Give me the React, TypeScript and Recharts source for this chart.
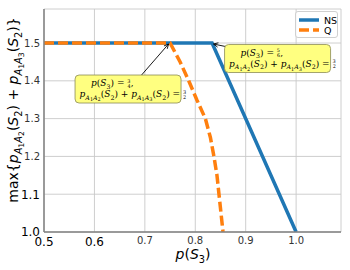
import React from "react";
import {
  CartesianGrid,
  Line,
  LineChart,
  ReferenceDot,
  XAxis,
  YAxis,
} from "recharts";

// values
const nsX = [0.5, 0.8333, 1.0];
const nsY = [1.5, 1.5, 1.0];
const qX = [0.5, 0.75, 0.77, 0.787, 0.803, 0.82, 0.83, 0.837, 0.843, 0.847, 0.851, 0.855];
const qY = [1.5, 1.5, 1.45, 1.4, 1.35, 1.3, 1.25, 1.2, 1.15, 1.1, 1.05, 1.0];
const xTicks = [0.5, 0.6, 0.7, 0.8, 0.9, 1.0];
const yTicks = [1.0, 1.1, 1.2, 1.3, 1.4, 1.5];
const bigX = [0.5, 0.6];
const bigY = [1.0, 1.1];
const seriesNames = ["NS", "Q"];
const noteQ = { x: 0.75, y: 1.5, num: "3", den: "4" };
const noteNS = { x: 0.8333, y: 1.5, num: "5", den: "6" };

const nsData = nsX.map((x, i) => ({ x, v: nsY[i] }));
const qData = qX.map((x, i) => ({ x, v: qY[i] }));

const BLUE = "#1f77b4";
const ORANGE = "#ff7f0e";
const SANS = "DejaVu Sans, sans-serif";
const SERIF = "DejaVu Serif, serif";

// [text, level, italic]; level 0 normal, 1 subscript, 2 sub-subscript, 3 frac top, 4 frac bottom
type Seg = [string, number, boolean];

function spans(segs: Seg[], base: number) {
  let cur = 0;
  return segs.map(([t, lvl, it], i) => {
    const off = [0, 0.28, 0.45, -0.38, 0.22][lvl] * base;
    const dy = off - cur;
    cur = off;
    const fs = [1, 0.7, 0.55, 0.55, 0.55][lvl] * base;
    // denominator sits under the numerator
    const dx = lvl === 4 ? -0.6 * fs : 0;
    return (
      <tspan key={i} dy={dy} dx={dx} fontSize={fs} fontStyle={it ? "italic" : "normal"}>
        {t}
      </tspan>
    );
  });
}

const sumSegs: Seg[] = [
  ["p", 0, true], ["A", 1, true], ["1", 2, false], ["A", 1, true], ["2", 2, false],
  ["(", 0, false], ["S", 0, true], ["2", 1, false], [") + ", 0, false],
  ["p", 0, true], ["A", 1, true], ["1", 2, false], ["A", 1, true], ["3", 2, false],
  ["(", 0, false], ["S", 0, true], ["2", 1, false], [") = ", 0, false],
  ["3", 3, false], ["2", 4, false],
];
const pSegs = (n: string, d: string): Seg[] => [
  ["p", 0, true], ["(", 0, false], ["S", 0, true], ["3", 1, false], [") = ", 0, false],
  [n, 3, false], [d, 4, false], [",", 0, false],
];

const Arrow = ({ x1, y1, x2, y2 }: { x1: number; y1: number; x2: number; y2: number }) => {
  const a = Math.atan2(y2 - y1, x2 - x1);
  const h = 5;
  const p1 = [x2 - h * Math.cos(a - 0.45), y2 - h * Math.sin(a - 0.45)];
  const p2 = [x2 - h * Math.cos(a + 0.45), y2 - h * Math.sin(a + 0.45)];
  return (
    <g stroke="#000" strokeWidth={0.9} fill="none">
      <line x1={x1} y1={y1} x2={x2} y2={y2} />
      <polyline points={`${p1[0]},${p1[1]} ${x2},${y2} ${p2[0]},${p2[1]}`} />
    </g>
  );
};

// box is placed relative to the annotated point
const Note = ({ cx, cy, bx, by, ax, ay, num, den }: any) => {
  const w = 106;
  const h = 28;
  return (
    <g>
      <Arrow x1={cx + ax} y1={cy + ay} x2={cx + (ax > 0 ? 1.5 : -1.5)} y2={cy + 1} />
      <rect x={cx + bx} y={cy + by} width={w} height={h} rx={4} fill="#ffff80" stroke="#8a8a55" strokeWidth={0.8} />
      <text x={cx + bx + 16} y={cy + by + 11} fontFamily={SERIF} fontSize={9} fill="#000">
        {spans(pSegs(num, den), 9)}
      </text>
      <text x={cx + bx + 4.5} y={cy + by + 22} fontFamily={SERIF} fontSize={9} fill="#000">
        {spans(sumSegs, 9)}
      </text>
    </g>
  );
};

const XTick = ({ x, y, payload }: any) => {
  const big = bigX.includes(payload.value);
  return (
    <text x={x} y={y} dy="0.71em" textAnchor="middle" fontFamily={SANS} fontSize={big ? 12 : 10} fill={big ? "#000" : "#333"}>
      {payload.value.toFixed(1)}
    </text>
  );
};

const YTick = ({ x, y, payload }: any) => {
  const big = bigY.includes(payload.value);
  return (
    <text x={x} y={y} dy="0.36em" textAnchor="end" fontFamily={SANS} fontSize={big ? 12 : 10} fill={big ? "#000" : "#333"}>
      {payload.value.toFixed(1)}
    </text>
  );
};

const ySegs: Seg[] = [["max{", 0, false], ...sumSegs.slice(0, 17), [")}", 0, false]];
const xSegs: Seg[] = [["p", 0, true], ["(", 0, false], ["S", 0, true], ["3", 1, false], [")", 0, false]];

export default function App() {
  return (
    <div style={{ position: "absolute", left: 0, top: 0, width: 350, height: 270, background: "#fff" }}>
      <LineChart width={350} height={270} margin={{ top: 9, right: 9, left: 0, bottom: 0 }}>
        <CartesianGrid stroke="#c8c8c8" strokeWidth={0.9} />
        <XAxis
          dataKey="x"
          type="number"
          domain={[0.5, 1.089]}
          ticks={xTicks}
          allowDataOverflow
          height={38}
          tickSize={0}
          tickMargin={5}
          tickLine={false}
          tick={<XTick />}
          axisLine={{ stroke: "#808080", strokeWidth: 1.5 }}
          label={{
            content: () => (
              <text x={193} y={259} textAnchor="middle" fontFamily={SANS} fontSize={14} fill="#000">
                {spans(xSegs, 14)}
              </text>
            ),
          }}
        />
        <XAxis xAxisId="top" orientation="top" type="number" domain={[0.5, 1.089]} height={0} tick={false} tickLine={false} axisLine={{ stroke: "#808080", strokeWidth: 1.5 }} />
        <YAxis
          type="number"
          domain={[1.0, 1.59]}
          ticks={yTicks}
          allowDataOverflow
          width={44}
          tickSize={0}
          tickMargin={4}
          tickLine={false}
          tick={<YTick />}
          axisLine={{ stroke: "#808080", strokeWidth: 1.5 }}
          label={{
            content: () => (
              <text x={18} y={110} transform="rotate(-90 18 110)" textAnchor="middle" fontFamily={SANS} fontSize={14} fill="#000">
                {spans(ySegs, 14)}
              </text>
            ),
          }}
        />
        <YAxis yAxisId="right" orientation="right" type="number" domain={[1.0, 1.59]} width={0} tick={false} tickLine={false} axisLine={{ stroke: "#808080", strokeWidth: 1.5 }} />
        <Line data={nsData} dataKey="v" name={seriesNames[0]} type="linear" stroke={BLUE} strokeWidth={3.5} dot={false} isAnimationActive={false} />
        <Line data={qData} dataKey="v" name={seriesNames[1]} type="linear" stroke={ORANGE} strokeWidth={3.5} strokeDasharray="10 4" dot={false} isAnimationActive={false} />
        <ReferenceDot
          x={noteQ.x}
          y={noteQ.y}
          r={0}
          shape={(p: any) => <Note cx={p.cx} cy={p.cy} bx={-95} by={32} ax={-28.5} ay={32} num={noteQ.num} den={noteQ.den} />}
        />
        <ReferenceDot
          x={noteNS.x}
          y={noteNS.y}
          r={0}
          shape={(p: any) => <Note cx={p.cx} cy={p.cy} bx={12.5} by={1.5} ax={13.5} ay={3.5} num={noteNS.num} den={noteNS.den} />}
        />
      </LineChart>
      <div
        style={{
          position: "absolute",
          left: 295,
          top: 11,
          width: 43,
          height: 27,
          border: "1px solid #d0d0d0",
          borderRadius: 3,
          background: "rgba(255,255,255,0.8)",
          fontFamily: SANS,
          fontSize: 9.5,
          color: "#000",
          boxSizing: "border-box",
        }}
      >
        {seriesNames.map((n, i) => (
          <div key={n} style={{ position: "absolute", left: 3, top: 3 + i * 10, height: 10, display: "flex", alignItems: "center" }}>
            <svg width={20} height={6} style={{ marginRight: 5 }}>
              <line x1={0} x2={20} y1={3} y2={3} stroke={i === 0 ? BLUE : ORANGE} strokeWidth={3.5} strokeDasharray={i === 0 ? undefined : "10 4"} />
            </svg>
            <span>{n}</span>
          </div>
        ))}
      </div>
    </div>
  );
}
